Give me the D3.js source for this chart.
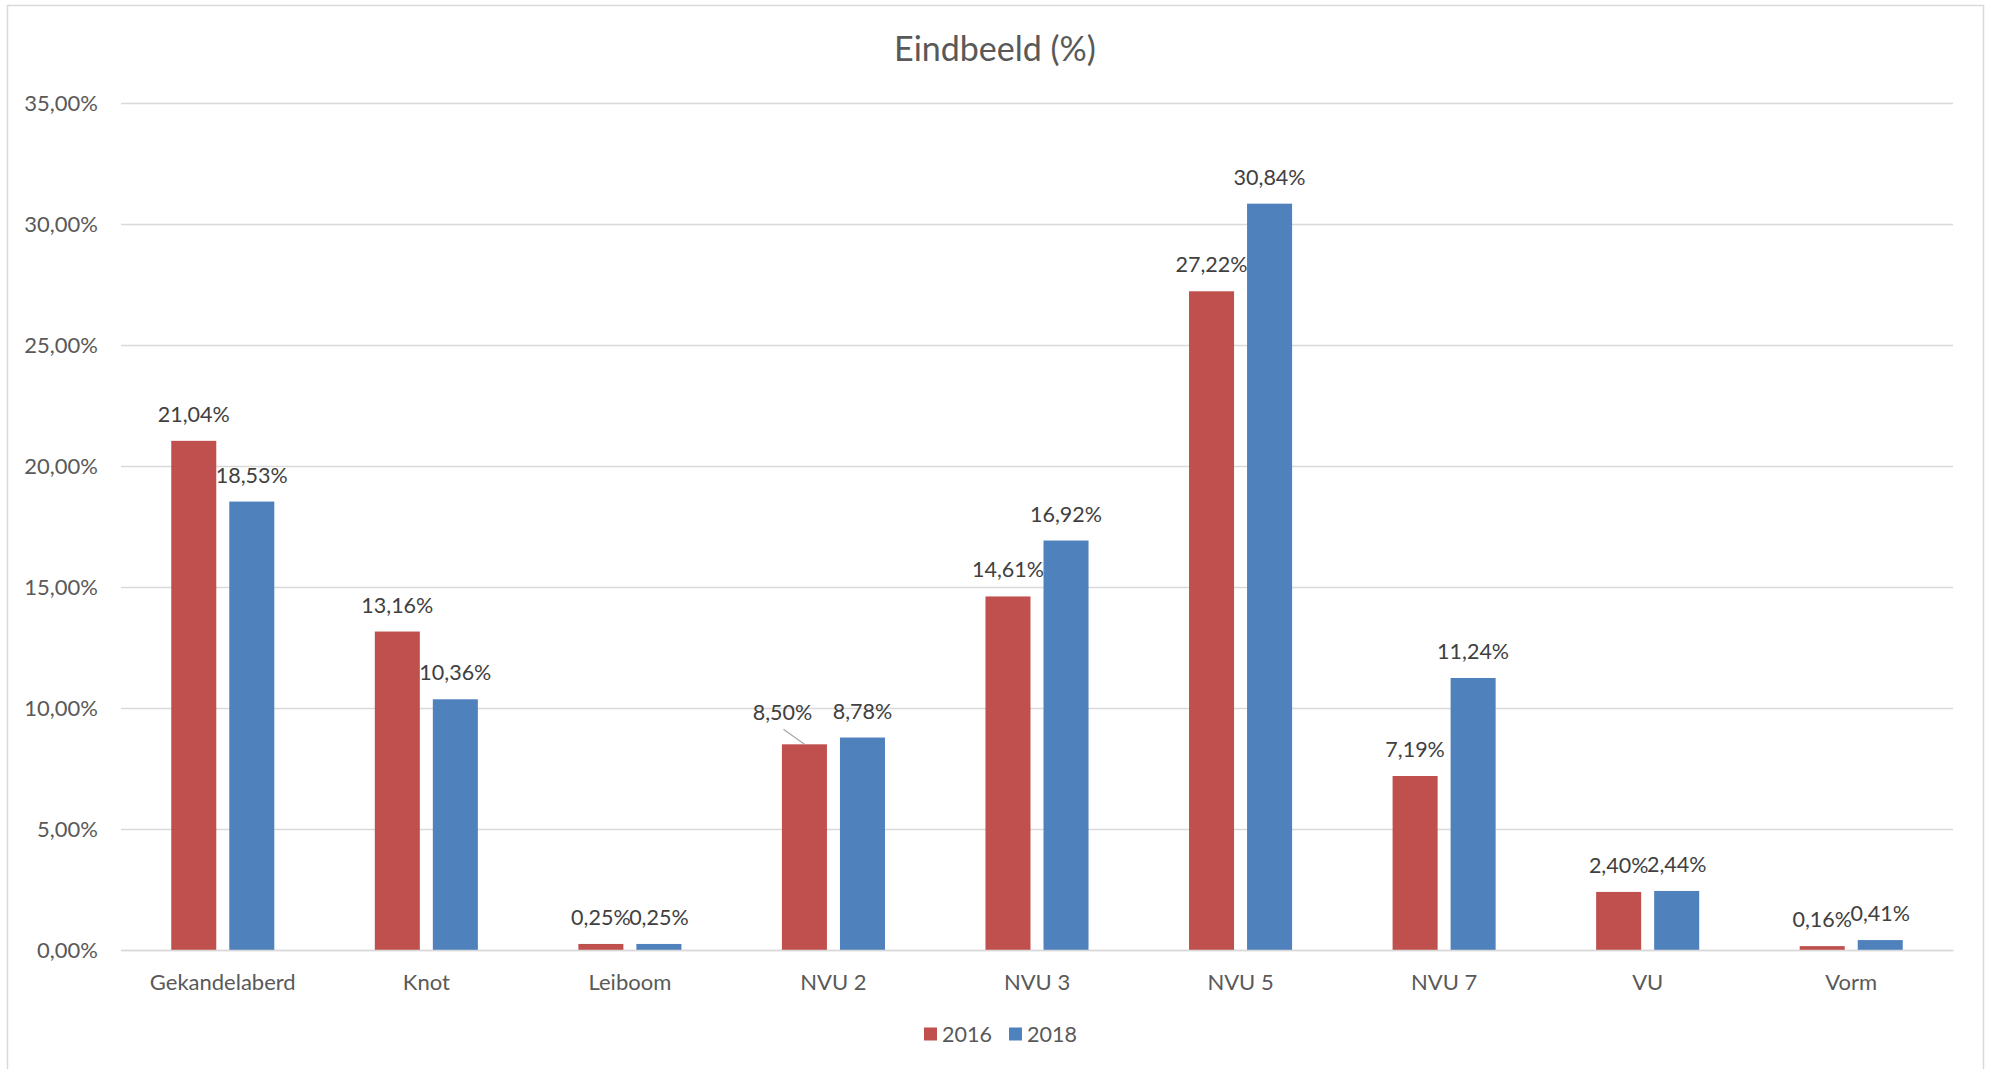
<!DOCTYPE html>
<html>
<head>
<meta charset="utf-8">
<script src="https://cdn.jsdelivr.net/npm/d3@7"></script>
<style>
  body { margin: 0; background: #fff; }
  svg text { font-family: Lato, "Open Sans", sans-serif; }
</style>
</head>
<body>
<script>
// data
const categories = ['Gekandelaberd', 'Knot', 'Leiboom', 'NVU 2', 'NVU 3', 'NVU 5', 'NVU 7', 'VU', 'Vorm'];
const seriesNames = ['2016', '2018'];
const values2016 = [21.04, 13.16, 0.25, 8.50, 14.61, 27.22, 7.19, 2.40, 0.16];
const values2018 = [18.53, 10.36, 0.25, 8.78, 16.92, 30.84, 11.24, 2.44, 0.41];
const yTicks = [0, 5, 10, 15, 20, 25, 30, 35];

const colors = { '2016': '#C0504D', '2018': '#4F81BD' };

const width = 1993;
const height = 1069;
const margin = { top: 103, right: 40, bottom: 119, left: 121 };

// Excel moved this one label aside and drew a leader line
const labelNudge = { '2016|NVU 2': [-22, -5] };

const nl = d3.formatLocale({ decimal: ',', thousands: '.', grouping: [3], currency: ['€', ''] });
const fmt = d => nl.format('.2f')(d) + '%';

const svg = d3.select('body').append('svg')
  .attr('width', width)
  .attr('height', height);

// chart border
svg.append('rect')
  .attr('x', 7.5).attr('y', 5.5)
  .attr('width', 1976).attr('height', 1080)
  .attr('fill', '#fff')
  .attr('stroke', '#D9D9D9')
  .attr('stroke-width', 1.5);

const x = d3.scaleBand()
  .domain(categories)
  .range([margin.left, width - margin.right]);

const xSub = d3.scaleBand()
  .domain(seriesNames)
  .range([0, x.bandwidth()])
  .paddingInner(0.224)
  .paddingOuter(0.866);

const y = d3.scaleLinear()
  .domain([0, 35])
  .range([height - margin.bottom, margin.top]);

// gridlines + y labels
const yAxis = svg.append('g')
  .attr('transform', `translate(${margin.left},0)`)
  .call(d3.axisLeft(y).tickValues(yTicks).tickFormat(fmt)
    .tickSize(-(width - margin.left - margin.right)).tickPadding(23));
yAxis.select('.domain').remove();
yAxis.selectAll('line').attr('stroke', '#D9D9D9').attr('stroke-width', 1.5);
yAxis.selectAll('text')
  .attr('fill', '#595959')
  .style('font-size', '22px');

// bars
const rows = [];
categories.forEach((c, i) => {
  rows.push({ cat: c, s: '2016', v: values2016[i] });
  rows.push({ cat: c, s: '2018', v: values2018[i] });
});

svg.append('g').selectAll('rect')
  .data(rows)
  .join('rect')
  .attr('x', d => x(d.cat) + xSub(d.s))
  .attr('y', d => y(d.v))
  .attr('width', xSub.bandwidth())
  .attr('height', d => y(0) - y(d.v))
  .attr('fill', d => colors[d.s]);

// x axis
const xAxis = svg.append('g')
  .attr('transform', `translate(0,${y(0)})`)
  .call(d3.axisBottom(x).tickSize(0).tickPadding(24));
xAxis.select('.domain').attr('stroke', '#D9D9D9').attr('stroke-width', 1.5);
xAxis.selectAll('text')
  .attr('fill', '#595959')
  .style('font-size', '22px');

// data labels
const labels = svg.append('g');
rows.forEach(d => {
  const cx = x(d.cat) + xSub(d.s) + xSub.bandwidth() / 2;
  const top = y(d.v);
  const nudge = labelNudge[d.s + '|' + d.cat] || [0, 0];
  const lx = cx + nudge[0];
  const ly = top - 19 + nudge[1];
  if (labelNudge[d.s + '|' + d.cat]) {
    labels.append('line')
      .attr('x1', lx + 1).attr('y1', ly + 9)
      .attr('x2', cx).attr('y2', top)
      .attr('stroke', '#A6A6A6').attr('stroke-width', 1.2);
  }
  labels.append('text')
    .attr('x', lx).attr('y', ly)
    .attr('text-anchor', 'middle')
    .attr('fill', '#404040')
    .style('font-size', '21.5px')
    .text(fmt(d.v));
});

// title
svg.append('text')
  .attr('x', 995).attr('y', 60.5)
  .attr('text-anchor', 'middle')
  .attr('fill', '#595959')
  .style('font-size', '34px')
  .text('Eindbeeld (%)');

// legend
const legend = svg.append('g').attr('transform', 'translate(924,1034)');
seriesNames.forEach((s, i) => {
  const g = legend.append('g').attr('transform', `translate(${i * 85},0)`);
  g.append('rect')
    .attr('x', 0).attr('y', -6.5)
    .attr('width', 13).attr('height', 13)
    .attr('fill', colors[s]);
  g.append('text')
    .attr('x', 18).attr('y', 7.5)
    .attr('fill', '#595959')
    .style('font-size', '21.5px')
    .text(s);
});
</script>
</body>
</html>
